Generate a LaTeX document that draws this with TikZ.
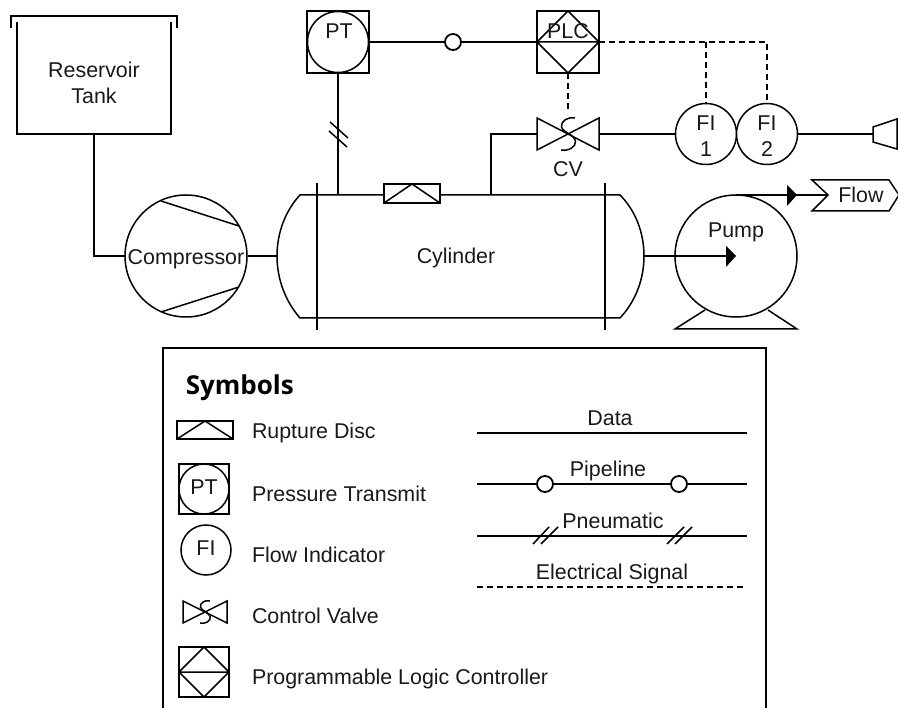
\documentclass[tikz,border=0pt]{standalone}
\usepackage{fontspec}
\setmainfont{Liberation Sans}
\newfontfamily\symbfont{Open Sans}
\begin{document}
\begin{tikzpicture}[x=1pt,y=-1pt,line width=1.5pt,line join=miter,
  txt/.style={inner sep=0pt,outer sep=0pt,anchor=base,yshift=-0.7pt,font=\fontsize{21.4}{25}\selectfont,text=black!90},
  txtl/.style={txt,anchor=base west},
  ring/.style={circle,draw,fill=white,inner sep=0pt,outer sep=0pt,minimum size=#1},
  squarebox/.style={rectangle,draw,fill=white,inner sep=0pt,outer sep=0pt,minimum size=#1},
  pt/.style={circle,draw,fill=white,inner sep=0pt,outer sep=0pt,minimum size=16pt,line width=1.8pt},
  sig/.style={dashed,dash pattern=on 6pt off 4pt},
  sshape/.pic={\draw[line width=1.5pt] (7,-16) .. controls (0,-17.5) and (-7.5,-13) .. (-6.5,-7) .. controls (-5.5,-2) and (6.5,1) .. (7.5,7) .. controls (8.5,13) and (0,17.5) .. (-7,16);},
  pics/plcmark/.style={code={\draw (-#1,0) -- (0,-#1) -- (#1,0) -- (0,#1) -- cycle (-#1,0) -- (#1,0);}},
  pics/disc/.style 2 args={code={\draw[fill=white] (-#1,-#2) rectangle (#1,#2); \draw (-#1,#2) -- (0,-#2) -- (#1,#2);}},
  pics/bowtie/.style 2 args={code={\draw[fill=white] (-#1,-#2) -- (#1,#2) -- (#1,-#2) -- (-#1,#2) -- cycle;}}
]
\useasboundingbox (0,0) rectangle (898,711);

% Reservoir tank
\coordinate (tankBL) at (17,134);
\coordinate (tankBR) at (171,134);
\coordinate (tankOut) at (94,134);
\draw (17,22) -- (tankBL) -- (tankBR) -- (171,22);
\draw (11,28) -- (11,16) -- (177,16) -- (177,28);
\node[txt] (tank1) at (94,77) {Reservoir};
\node[txt] (tank2) at (94,103) {Tank};

% Compressor
\node[ring=122pt] (comp) at (186,256) {};
\draw (161,201) -- (239,226) (161,312) -- (239,287);
\node[txt] (compt) at (186,264) {Compressor};
\draw (tankOut) -- (94,256) -- (comp.west);

% Cylinder
\coordinate (cylL) at (277,256);
\coordinate (cylR) at (644,256);
\coordinate (cylTA) at (338,195);
\coordinate (cylTB) at (491,195);
\draw (300,195) -- (620,195) .. controls (635,210) and (644,232) .. (cylR) .. controls (644,280) and (635,302) .. (620,318) -- (300,318) .. controls (286,302) and (277,280) .. (cylL) .. controls (277,232) and (286,210) .. (300,195) -- cycle;
\draw (317,183) -- (317,330) (605,183) -- (605,330);
\node[txt] (cylt) at (456,263) {Cylinder};
\draw (248,256) -- (cylL);
\pic at (412,193.5) {disc={28}{9.5}};

% PT
\node[squarebox=62pt] (pt) at (338,42) {};
\node[ring=61pt] (ptc) at (338,42) {};
\node[txt] (ptt) at (339,38) {PT};
\draw (pt.south) -- (cylTA);
\draw (330,122) -- (348,138) (329,131) -- (347,147);

% PLC
\node[squarebox=62pt] (plc) at (568,42) {};
\pic at (568,42) {plcmark=31};
\node[txt] (plct) at (568,38) {PLC};
\draw (ptc.east) -- (plc.west);
\node[pt] (pipe) at (453,42) {};

% CV
\pic (cv) at (568,134) {bowtie={31}{16}};
\coordinate (cvL) at (537,134);
\coordinate (cvR) at (599,134);
\coordinate (cvT) at (568,112);
\pic at (568,134) {sshape};
\node[txt] (cvt) at (568,176) {CV};
\draw (cvL) -- (491,134) -- (cylTB);
\draw[sig] (plc.south) -- (cvT);

% FI
\node[ring=61pt] (fi1) at (706,134) {};
\node[ring=61pt] (fi2) at (767,134) {};
\node[txt] (fi1a) at (706,130) {FI};
\node[txt] (fi1b) at (706,156) {1};
\node[txt] (fi2a) at (767,130) {FI};
\node[txt] (fi2b) at (767,156) {2};
\draw (cvR) -- (fi1.west);
\coordinate (horn) at (873,134);
\draw (fi2.east) -- (horn);
\draw (873,127) -- (897,119) -- (897,149) -- (873,142) -- cycle;
\coordinate (busA) at (706,42);
\draw[sig] (plc.east) -- (767,42) -- (fi2.north);
\draw[sig] (busA) -- (fi1.north);

% Pump
\draw (705,310) -- (675,329) -- (797,329) -- (768,310);
\node[ring=122pt] (pump) at (736,256) {};
\node[txt] (pumpt) at (736,237) {Pump};
\coordinate (pumpC) at (727,256);
\draw (cylR) -- (pumpC);
\fill (726,246) -- (736,256) -- (726,267) -- cycle;
\coordinate (flowIn) at (828,195);
\draw (pump.north) -- (flowIn);
\fill (787,185) -- (797,195) -- (787,206) -- cycle;
\draw (812,180) -- (889,180) -- (899,195) -- (889,211) -- (812,211) -- (flowIn) -- cycle;
\node[txt] (flowt) at (861,202) {Flow};

% Legend
\draw (163,708) -- (163,348) -- (766,348) -- (766,708);
\node[inner sep=0pt,anchor=base west,font=\symbfont\bfseries\fontsize{26}{30}\selectfont] (sym) at (185,395) {Symbols};

\pic at (205,430) {disc={28}{9}};
\node[txtl] (l1) at (252,438) {Rupture Disc};

\node[squarebox=50pt] (lpt) at (204,489) {};
\node[ring=50pt] (lptc) at (204,489) {};
\node[txt] (lptt) at (204,494) {PT};
\node[txtl] (l2) at (252,501) {Pressure Transmit};

\node[ring=50pt] (lfi) at (206,550) {};
\node[txt] (lfit) at (206,555) {FI};
\node[txtl] (l3) at (252,562) {Flow Indicator};

\pic at (205,612) {bowtie={22}{11}};
\pic[scale=0.7] at (205,612) {sshape};
\node[txtl] (l4) at (252,623) {Control Valve};

\node[squarebox=50pt] (lplc) at (204,672) {};
\pic at (204,672) {plcmark=25};
\node[txtl] (l5) at (252,684) {Programmable Logic Controller};

\coordinate (dA) at (477,433); \coordinate (dB) at (747,433);
\draw (dA) -- (dB);
\node[txt] (dt) at (610,425) {Data};

\coordinate (pA) at (477,484); \coordinate (pB) at (747,484);
\draw (pA) -- (pB);
\node[pt] (p1) at (545,484) {};
\node[pt] (p2) at (679,484) {};
\node[txt] (pt2) at (608,476) {Pipeline};

\coordinate (nA) at (477,536); \coordinate (nB) at (747,536);
\draw (nA) -- (nB);
\draw (533,544) -- (549,527) (541,544) -- (558,527) (667,544) -- (684,527) (675,544) -- (692,527);
\node[txt] (nt) at (613,528) {Pneumatic};

\coordinate (eA) at (477,587); \coordinate (eB) at (745,587);
\draw[sig] (eA) -- (eB);
\node[txt] (et) at (612,579) {Electrical Signal};
\end{tikzpicture}
\end{document}
